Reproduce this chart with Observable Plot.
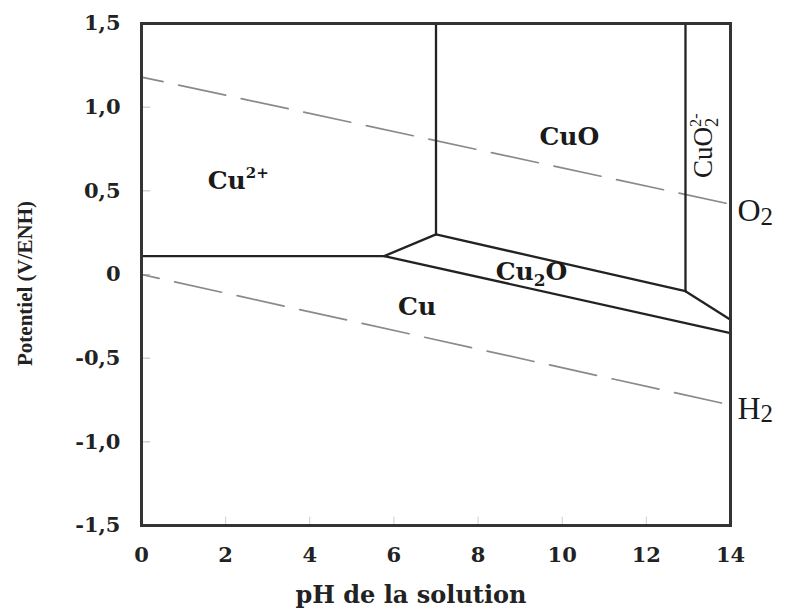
<!DOCTYPE html>
<html>
<head>
<meta charset="utf-8">
<script src="https://cdn.jsdelivr.net/npm/d3@7"></script>
<script src="https://cdn.jsdelivr.net/npm/@observablehq/plot@0.6"></script>
<style>
  html, body { margin: 0; padding: 0; background: #fff; }
  svg { display: block; }
</style>
</head>
<body>
<script>
// ---- Data (pH, E in V/ENH) ----
const xTicks = [0, 2, 4, 6, 8, 10, 12, 14];
const yTicks = [-1.5, -1.0, -0.5, 0, 0.5, 1.0, 1.5];

// Stability domain boundaries (each a polyline of [pH, E])
const bCu2Cu    = [[0, 0.11], [5.77, 0.11]];
const bCu2Cu2O  = [[5.77, 0.11], [7.0, 0.24]];
const bCu2CuO   = [[7.0, 0.24], [7.0, 1.5]];
const bCuOCu2O  = [[7.0, 0.24], [12.93, -0.10]];
const bCuOCuO2  = [[12.93, -0.10], [12.93, 1.5]];
const bCuO2Cu2O = [[12.93, -0.10], [14, -0.27]];
const bCu2OCu   = [[5.77, 0.11], [14, -0.35]];

// Water stability lines
const lineO2 = [[0, 1.18], [14, 0.42]];
const lineH2 = [[0, 0.0], [14, -0.78]];

// Region labels
const regionNames = ["Cu^{2+}", "CuO", "Cu_{2}O", "Cu"];
const regionPH    = [2.3, 10.17, 9.27, 6.55];
const regionE     = [0.56, 0.82, 0.012, -0.197];

const ionName = ["CuO_{2}^{2-}"];
const ionPH = [13.36];
const ionE = [0.77];

const gasNames = ["O_{2}", "H_{2}"];
const gasPH = [14, 14];
const gasE = [0.38, -0.80];

const xTitle = "pH de la solution";
const yTitle = "Potentiel (V/ENH)";

const boundaries = [bCu2Cu, bCu2Cu2O, bCu2CuO, bCuOCu2O, bCuOCuO2, bCuO2Cu2O, bCu2OCu];

const regions = regionNames.map((n, i) => ({n, x: regionPH[i], y: regionE[i]}));
const ions = ionName.map((n, i) => ({n, x: ionPH[i], y: ionE[i]}));
const gases = gasNames.map((n, i) => ({n, x: gasPH[i], y: gasE[i]}));

const fmtY = d => d === 0 ? "0" : d.toFixed(1).replace(".", ",");

const serifBold = "'DejaVu Serif', serif";
const times = "'Liberation Serif', 'Times New Roman', serif";

const chart = Plot.plot({
  width: 787,
  height: 610,
  marginLeft: 141,
  marginRight: 57,
  marginTop: 23,
  marginBottom: 85,
  style: {fontFamily: serifBold, background: "#fff", color: "#222", overflow: "visible"},
  x: {domain: [0, 14]},
  y: {domain: [-1.5, 1.5]},
  marks: [
    // faint inward ticks
    Plot.ruleY(yTicks, {x1: 0, x2: 0.22, stroke: "#bbb", strokeWidth: 1}),
    Plot.ruleX(xTicks, {y1: -1.5, y2: -1.45, stroke: "#ccc", strokeWidth: 1}),
    Plot.axisX(xTicks, {tickSize: 0, tickPadding: 22, fontSize: 21, fontWeight: "bold", label: null, fill: "#222"}),
    Plot.axisY(yTicks, {tickSize: 0, tickPadding: 21, fontSize: 21, fontWeight: "bold", label: null, tickFormat: fmtY, fill: "#222"}),
    // water lines
    Plot.line(lineO2, {x: d => d[0], y: d => d[1], stroke: "#8a8a8a", strokeWidth: 1.7, strokeDasharray: "48,16", strokeDashoffset: 26}),
    Plot.line(lineH2, {x: d => d[0], y: d => d[1], stroke: "#8a8a8a", strokeWidth: 1.7, strokeDasharray: "48,16", strokeDashoffset: 30}),
    // boundaries
    ...boundaries.map(b => Plot.line(b, {x: d => d[0], y: d => d[1], stroke: "#222", strokeWidth: 2.3})),
    Plot.frame({stroke: "#333", strokeWidth: 3}),
    // labels
    Plot.text(regions, {x: "x", y: "y", text: "n", fontSize: 25, fontWeight: "bold", fontFamily: serifBold, fill: "#1a1a1a"}),
    Plot.text(ions, {x: "x", y: "y", text: "n", fontSize: 27, fontFamily: times, rotate: -90, fill: "#1a1a1a"}),
    Plot.text(gases, {x: "x", y: "y", text: "n", fontSize: 32, fontFamily: times, textAnchor: "start", dx: 7, fill: "#1a1a1a"}),
    // axis titles
    Plot.text([xTitle], {frameAnchor: "bottom", textAnchor: "middle", lineAnchor: "middle", dx: -25, dy: 70, fontSize: 24, fontWeight: "bold", fontFamily: serifBold, fill: "#222"}),
    Plot.text([yTitle], {frameAnchor: "left", textAnchor: "middle", lineAnchor: "middle", dx: -116, dy: 9, rotate: -90, fontSize: 21, fontWeight: "bold", fontFamily: times, fill: "#222"})
  ]
});

document.body.appendChild(chart);

// Convert _{..} and ^{..} markup into sub/superscript tspans
d3.select(chart).selectAll("text").each(function() {
  const el = this;
  const s = el.textContent;
  if (!/[_^]\{/.test(s)) return;
  const fs = parseFloat(getComputedStyle(el).fontSize) || 20;
  const big = fs >= 30;
  const subSize = big ? 0.78 : 0.68;
  const subShift = big ? 0.12 : 0.22;
  const re = /([_^])\{([^}]*)\}|([^_^]+)/g;
  const NS = "http://www.w3.org/2000/svg";
  el.textContent = "";
  let shift = 0;       // current baseline offset (px, positive = down)
  let lastSub = null;  // previous tspan if it was a subscript
  let m;
  while ((m = re.exec(s))) {
    const t = document.createElementNS(NS, "tspan");
    if (m[3]) {
      t.textContent = m[3];
      if (shift) t.setAttribute("dy", -shift);
      shift = 0; lastSub = null;
      el.appendChild(t);
    } else if (m[1] === "_") {
      const target = subShift * fs;
      t.textContent = m[2];
      t.setAttribute("font-size", subSize * fs);
      t.setAttribute("dy", target - shift);
      shift = target;
      el.appendChild(t);
      lastSub = t;
    } else {
      const target = -0.42 * fs;
      t.textContent = m[2];
      t.setAttribute("font-size", 0.6 * fs);
      t.setAttribute("dy", target - shift);
      shift = target;
      el.appendChild(t);
      if (lastSub) {
        const w = lastSub.getComputedTextLength();
        t.setAttribute("dx", -w);
      }
      lastSub = null;
    }
  }
});
</script>
</body>
</html>
